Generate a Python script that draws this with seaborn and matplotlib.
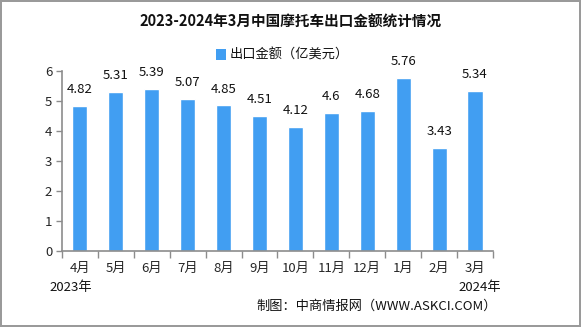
import matplotlib
matplotlib.use("Agg")
import matplotlib.pyplot as plt
import seaborn as sns
import numpy as np
import pandas as pd

months = ["4月", "5月", "6月", "7月", "8月", "9月", "10月", "11月", "12月", "1月", "2月", "3月"]
values = [4.82, 5.31, 5.39, 5.07, 4.85, 4.51, 4.12, 4.6, 4.68, 5.76, 3.43, 5.34]
value_labels = ["4.82", "5.31", "5.39", "5.07", "4.85", "4.51", "4.12", "4.6", "4.68", "5.76", "3.43", "5.34"]
yticks = [0, 1, 2, 3, 4, 5, 6]

sns.set_theme(style="white")
plt.rcParams["font.family"] = ["Noto Sans CJK SC", "DejaVu Sans"]

bar_color = "#419EF2"
axis_color = "#8C8C8C"

df = pd.DataFrame({"month": months, "value": values})

fig = plt.figure(figsize=(5.81, 3.27), dpi=100)
fig.patch.set_facecolor("white")
fig.patch.set_edgecolor("#9A9A9A")
fig.patch.set_linewidth(1.5)

ax = fig.add_axes([0.1067, 0.2324, 0.7418, 0.5505])
sns.barplot(data=df, x="month", y="value", color=bar_color, width=0.42,
            saturation=1, ax=ax)

ax.set_xlim(-0.5, len(months) - 0.5)
ax.set_ylim(0, 6)
ax.set_yticks(yticks)
ax.set_yticklabels([str(t) for t in yticks], fontsize=9.5)
ax.set_xlabel("")
ax.set_ylabel("")
ax.tick_params(axis="x", length=0, pad=8, labelsize=9.5)
ax.tick_params(axis="y", length=4, width=1, color=axis_color, left=True, pad=3)
ax.set_xticks(np.arange(-0.5, len(months), 1.0), minor=True)
ax.tick_params(axis="x", which="minor", length=5, width=1, color=axis_color, bottom=True)

for side in ["top", "right"]:
    ax.spines[side].set_visible(False)
for side in ["left", "bottom"]:
    ax.spines[side].set_color(axis_color)
    ax.spines[side].set_linewidth(1.2)

for i, (v, lab) in enumerate(zip(values, value_labels)):
    ax.text(i, v + 0.33, lab, ha="center", va="bottom", fontsize=9.5, color="#111111")

fig.text(0.5, 0.935, "2023-2024年3月中国摩托车出口金额统计情况", ha="center", va="center",
         fontsize=10.5, fontweight="bold", color="#111111")

# legend
fig.patches.append(plt.Rectangle((0.372, 0.815), 0.017, 0.035, transform=fig.transFigure,
                                 facecolor=bar_color, edgecolor="none"))
fig.text(0.395, 0.832, "出口金额（亿美元）", ha="left", va="center", fontsize=9.5, color="#111111")

fig.text(0.122, 0.12, "2023年", ha="center", va="center", fontsize=9.5, color="#111111")
fig.text(0.826, 0.12, "2024年", ha="center", va="center", fontsize=9.5, color="#111111")
fig.text(0.856, 0.062, "制图：中商情报网（WWW.ASKCI.COM）", ha="right", va="center",
         fontsize=9.5, color="#111111")

fig.savefig("out.png", dpi=100, facecolor=fig.get_facecolor(), edgecolor=fig.get_edgecolor())
